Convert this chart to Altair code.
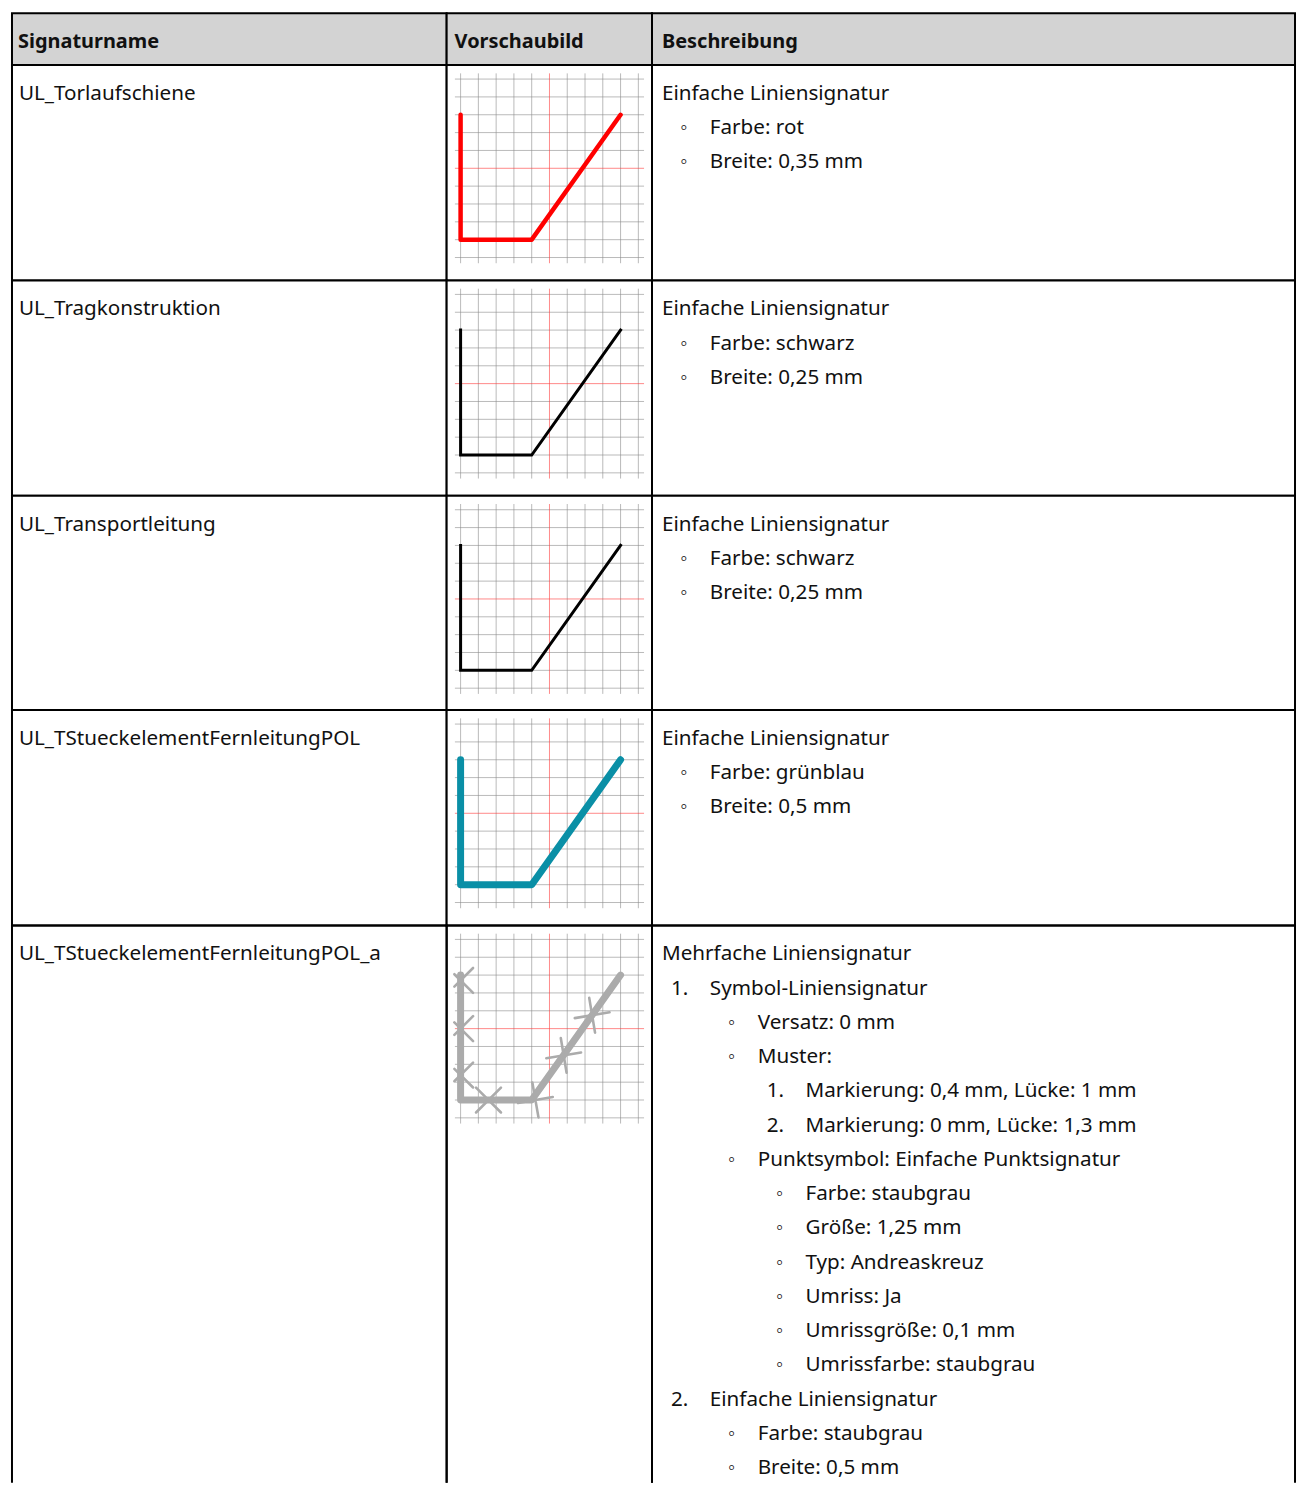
import altair as alt
import pandas as pd

# ---------------- content ----------------
HEADERS = ["Signaturname", "Vorschaubild", "Beschreibung"]

NAMES = [
    "UL_Torlaufschiene",
    "UL_Tragkonstruktion",
    "UL_Transportleitung",
    "UL_TStueckelementFernleitungPOL",
    "UL_TStueckelementFernleitungPOL_a",
]

# (level, marker, text)
DESCRIPTIONS = [
    [(0, "", "Einfache Liniensignatur"), (1, "◦", "Farbe: rot"), (1, "◦", "Breite: 0,35 mm")],
    [(0, "", "Einfache Liniensignatur"), (1, "◦", "Farbe: schwarz"), (1, "◦", "Breite: 0,25 mm")],
    [(0, "", "Einfache Liniensignatur"), (1, "◦", "Farbe: schwarz"), (1, "◦", "Breite: 0,25 mm")],
    [(0, "", "Einfache Liniensignatur"), (1, "◦", "Farbe: grünblau"), (1, "◦", "Breite: 0,5 mm")],
    [
        (0, "", "Mehrfache Liniensignatur"),
        (1, "1.", "Symbol-Liniensignatur"),
        (2, "◦", "Versatz: 0 mm"),
        (2, "◦", "Muster:"),
        (3, "1.", "Markierung: 0,4 mm, Lücke: 1 mm"),
        (3, "2.", "Markierung: 0 mm, Lücke: 1,3 mm"),
        (2, "◦", "Punktsymbol: Einfache Punktsignatur"),
        (3, "◦", "Farbe: staubgrau"),
        (3, "◦", "Größe: 1,25 mm"),
        (3, "◦", "Typ: Andreaskreuz"),
        (3, "◦", "Umriss: Ja"),
        (3, "◦", "Umrissgröße: 0,1 mm"),
        (3, "◦", "Umrissfarbe: staubgrau"),
        (1, "2.", "Einfache Liniensignatur"),
        (2, "◦", "Farbe: staubgrau"),
        (2, "◦", "Breite: 0,5 mm"),
    ],
]

# preview geometry (grid units)
GRID = list(range(-5, 6))
GRID_EXTENT = 5.32
PATH_X = [-5, -5, -1, 4]
PATH_Y = [3, -4, -4, 3]

CROSS_X = [-5, -5, -5, -3.43, -0.79, 0.8, 2.4]
CROSS_Y = [2.7, 0, -2.6, -4, -4, -1.5, 0.75]
CROSS_ANGLE = [0, 0, 0, 0, 35, 35.5, 35.5]
CROSS_KIND = ["half", "half", "half", "full", "full", "full", "full"]

# ---------------- style ----------------
FONT = "Noto Sans"
FONT_SIZE = 20.7
HEADER_FONT_SIZE = 20
LINE_STYLE = [("#ff0000", 4.5), ("#000000", 3), ("#000000", 3), ("#0a8fa6", 7), ("#ababab", 7)]
CROSS_COLOR = "#ababab"
COL_W = [436, 206, 645]
HEADER_H = 52
ROW_H = [216, 216, 215, 216, 549]
HEADER_FILL = "#d3d3d3"
X_SHAPE = "M-1,-1L1,1M-1,1L1,-1"
HALF_X_SHAPE = "M-0.5,-0.5L1,1M-0.5,0.5L1,-1"


def open_bottom_borders(width, height):
    """Left, right and top cell borders for the last (open-ended) row."""
    edge = pd.DataFrame({"e": [0]})
    left = alt.Chart(edge).mark_rule(color="black", strokeWidth=2).encode(
        x=alt.value(0), y=alt.value(0), y2=alt.value(height + 10))
    right = alt.Chart(edge).mark_rule(color="black", strokeWidth=2).encode(
        x=alt.value(width), y=alt.value(0), y2=alt.value(height + 10))
    top = alt.Chart(edge).mark_rule(color="black", strokeWidth=2).encode(
        x=alt.value(-1), x2=alt.value(width + 1), y=alt.value(0))
    return [left, right, top]


def view_for(fill, open_bottom):
    if open_bottom:
        return alt.ViewBackground(fill="transparent", stroke="transparent", strokeWidth=0)
    return alt.ViewBackground(fill=fill, stroke="black", strokeWidth=2)


def text_cell(items, width, height, x0, bold=False, fill="white", open_bottom=False):
    df = pd.DataFrame(
        [{"line": i, "level": lv, "marker": mk, "text": tx} for i, (lv, mk, tx) in enumerate(items)]
    )
    df["kind"] = df["marker"].map(lambda m: "none" if m == "" else ("bullet" if m == "◦" else "num"))
    base = alt.Chart(df).encode(
        x=alt.X("level:Q", scale=alt.Scale(domain=[0, 1], range=[x0, x0 + 48], nice=False, zero=False), axis=None),
        y=alt.Y("line:Q", scale=alt.Scale(domain=[0, 1], range=[35, 69.35], nice=False, zero=False), axis=None),
    )
    common = dict(baseline="alphabetic", font=FONT, fontSize=HEADER_FONT_SIZE if bold else FONT_SIZE,
                  color="#111111", fontWeight="bold" if bold else "normal")
    txt = base.mark_text(align="left", **common).encode(text="text:N")
    bullets = base.transform_filter(alt.datum.kind == "bullet").mark_text(
        align="center", dx=-26, **common).encode(text="marker:N")
    nums = base.transform_filter(alt.datum.kind == "num").mark_text(
        align="left", dx=-39, **common).encode(text="marker:N")
    layers = [txt, bullets, nums]
    if open_bottom:
        layers += open_bottom_borders(width, height)
    return alt.layer(*layers).properties(
        width=width, height=height, view=view_for(fill, open_bottom)
    )


def preview_cell(idx, width, height, open_bottom=False):
    color, lw = LINE_STYLE[idx]
    xs = alt.Scale(domain=[-5, 5], range=[14, 192.3], nice=False, zero=False)
    ys = alt.Scale(domain=[-5, 5], range=[193, 14], nice=False, zero=False)
    grid = pd.DataFrame({"g": GRID, "lo": [-GRID_EXTENT] * len(GRID), "hi": [GRID_EXTENT] * len(GRID)})
    plain = grid[grid["g"] != 0]
    center = grid[grid["g"] == 0]
    gstyle = dict(color="#8c8c8c", strokeWidth=1, opacity=0.6)
    vgrid = alt.Chart(plain).mark_rule(**gstyle).encode(
        x=alt.X("g:Q", scale=xs, axis=None),
        y=alt.Y("lo:Q", scale=ys, axis=None),
        y2="hi:Q",
    )
    hgrid = alt.Chart(plain).mark_rule(**gstyle).encode(
        y=alt.Y("g:Q", scale=ys, axis=None),
        x=alt.X("lo:Q", scale=xs, axis=None),
        x2="hi:Q",
    )
    rstyle = dict(color="#ff3b3b", strokeWidth=1, opacity=0.6)
    vred = alt.Chart(center).mark_rule(**rstyle).encode(
        x=alt.X("g:Q", scale=xs, axis=None), y=alt.Y("lo:Q", scale=ys, axis=None), y2="hi:Q")
    hred = alt.Chart(center).mark_rule(**rstyle).encode(
        y=alt.Y("g:Q", scale=ys, axis=None), x=alt.X("lo:Q", scale=xs, axis=None), x2="hi:Q")
    path = pd.DataFrame({"i": range(len(PATH_X)), "x": PATH_X, "y": PATH_Y})
    round_join = lw > 4
    line = alt.Chart(path).mark_line(
        color=color, strokeWidth=lw,
        strokeCap="round" if round_join else "square",
        strokeJoin="round" if round_join else "miter",
    ).encode(
        x=alt.X("x:Q", scale=xs, axis=None),
        y=alt.Y("y:Q", scale=ys, axis=None),
        order=alt.Order("i:Q"),
    )
    layers = [vgrid, hgrid, vred, hred, line]
    if idx == 4:
        crosses = pd.DataFrame({"x": CROSS_X, "y": CROSS_Y, "angle": CROSS_ANGLE, "kind": CROSS_KIND})
        pts = alt.Chart(crosses).mark_point(
            filled=False, color=CROSS_COLOR, strokeWidth=2.6, opacity=1, size=625, strokeCap="round"
        ).encode(
            x=alt.X("x:Q", scale=xs, axis=None),
            y=alt.Y("y:Q", scale=ys, axis=None),
            angle=alt.Angle("angle:Q", scale=None),
            shape=alt.Shape("kind:N", scale=alt.Scale(domain=["full", "half"], range=[X_SHAPE, HALF_X_SHAPE]),
                            legend=None),
        )
        layers.append(pts)
    if open_bottom:
        layers += open_bottom_borders(width, height)
    return alt.layer(*layers).properties(
        width=width, height=height, view=view_for("white", open_bottom)
    )


cells = [
    text_cell([(0, "", HEADERS[0])], COL_W[0], HEADER_H, 6, bold=True, fill=HEADER_FILL),
    text_cell([(0, "", HEADERS[1])], COL_W[1], HEADER_H, 8, bold=True, fill=HEADER_FILL),
    text_cell([(0, "", HEADERS[2])], COL_W[2], HEADER_H, 10, bold=True, fill=HEADER_FILL),
]
last = len(NAMES) - 1
for k, name in enumerate(NAMES):
    ob = k == last
    cells += [
        text_cell([(0, "", name)], COL_W[0], ROW_H[k], 7, open_bottom=ob),
        preview_cell(k, COL_W[1], ROW_H[k], open_bottom=ob),
        text_cell(DESCRIPTIONS[k], COL_W[2], ROW_H[k], 10, open_bottom=ob),
    ]

chart = alt.concat(*cells, columns=3, spacing=0, bounds="flush", align="each").properties(
    padding={"left": 2, "top": 2, "right": 1, "bottom": 0},
    background="white",
).configure_view(stroke="black", strokeWidth=2)

chart.save("out.html", embed_options={"renderer": "svg", "actions": False})
